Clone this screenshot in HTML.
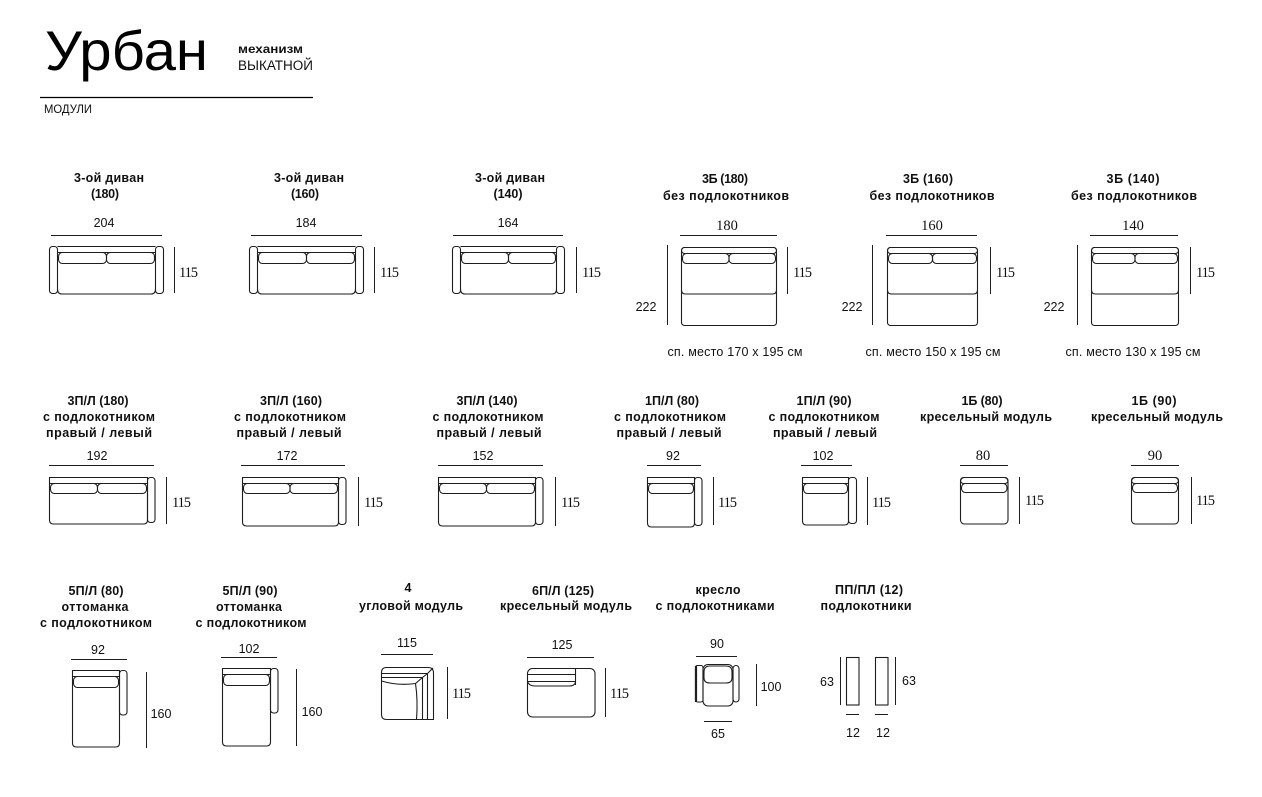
<!DOCTYPE html>
<html><head><meta charset="utf-8"><style>
html,body{margin:0;padding:0;background:#fff;}
svg{display:block;}
.o{fill:none;stroke:#1e1e1e;stroke-width:1.1;}
.d{fill:none;stroke:#1e1e1e;stroke-width:1;}
.t{font-family:"Liberation Sans","Noto Sans CJK SC",sans-serif;font-weight:bold;font-size:12.5px;fill:#111;text-anchor:middle;}
.n{font-family:"Liberation Sans","Noto Sans CJK SC",sans-serif;font-size:12.5px;fill:#111;text-anchor:middle;}
.s{font-family:"Liberation Serif","Noto Serif CJK SC",serif;font-size:14.5px;fill:#111;}
.c{font-family:"Liberation Sans","Noto Sans CJK SC",sans-serif;font-size:12.5px;fill:#111;text-anchor:middle;}
</style></head><body>
<svg width="1262" height="797" viewBox="0 0 1262 797" xmlns="http://www.w3.org/2000/svg">
<rect width="1262" height="797" fill="#fff"/>
<!-- Header -->
<text x="45" y="70" font-family="'Liberation Sans','Noto Sans CJK SC',sans-serif" font-size="56" fill="#000" textLength="163" lengthAdjust="spacingAndGlyphs">Урбан</text>
<text x="238" y="53" font-family="'Liberation Sans','Noto Sans CJK SC',sans-serif" font-size="12" font-weight="bold" fill="#111" textLength="65" lengthAdjust="spacingAndGlyphs">механизм</text>
<text x="238" y="70" font-family="'Liberation Sans','Noto Sans CJK SC',sans-serif" font-size="13.5" fill="#111" textLength="75" lengthAdjust="spacingAndGlyphs">ВЫКАТНОЙ</text>
<line x1="40" y1="97.5" x2="313" y2="97.5" stroke="#000" stroke-width="1.2"/>
<text x="44" y="113" font-family="'Liberation Sans','Noto Sans CJK SC',sans-serif" font-size="11.5" fill="#111" textLength="48" lengthAdjust="spacingAndGlyphs">МОДУЛИ</text>

<!-- ROW 1 titles -->
<text class="t" x="109" y="182" textLength="70">3-ой диван</text>
<text class="t" x="105" y="198" textLength="28">(180)</text>
<text class="t" x="309" y="182" textLength="70">3-ой диван</text>
<text class="t" x="305" y="198" textLength="28">(160)</text>
<text class="t" x="510" y="182" textLength="70">3-ой диван</text>
<text class="t" x="508" y="198" textLength="29">(140)</text>
<text class="t" x="725" y="183" textLength="46">3Б (180)</text>
<text class="t" x="726" y="200" textLength="126">без подлокотников</text>
<text class="t" x="928" y="183" textLength="50">3Б (160)</text>
<text class="t" x="932" y="200" textLength="125">без подлокотников</text>
<text class="t" x="1133" y="183" textLength="53">3Б (140)</text>
<text class="t" x="1134" y="200" textLength="126">без подлокотников</text>

<!-- ROW 1 dims -->
<text class="n" x="104" y="227">204</text>
<text class="n" x="306" y="227">184</text>
<text class="n" x="508" y="227">164</text>
<text class="s" x="727" y="230" text-anchor="middle">180</text>
<text class="s" x="932" y="230" text-anchor="middle">160</text>
<text class="s" x="1133" y="230" text-anchor="middle">140</text>
<path class="d" d="M51,235.5H162 M251,235.5H362 M453,235.5H563 M680,235.5H777 M886,235.5H977 M1090,235.5H1178"/>
<path class="d" d="M174.5,247V293 M374.5,247V293 M576.5,247V293 M667.5,245V325 M872.5,245V325 M1077.5,245V325 M787.5,247V294 M990.5,247V294 M1190.5,247V294"/>
<text class="s" x="179" y="277" textLength="19">115</text>
<text class="s" x="380" y="277" textLength="19">115</text>
<text class="s" x="582" y="277" textLength="19">115</text>
<text class="s" x="793" y="277" textLength="19">115</text>
<text class="s" x="996" y="277" textLength="19">115</text>
<text class="s" x="1196" y="277" textLength="19">115</text>
<text class="n" x="646" y="311">222</text>
<text class="n" x="852" y="311">222</text>
<text class="n" x="1054" y="311">222</text>
<text class="c" x="735" y="356" textLength="135">сп. место 170 х 195 см</text>
<text class="c" x="933" y="356" textLength="135">сп. место 150 х 195 см</text>
<text class="c" x="1133" y="356" textLength="135">сп. место 130 х 195 см</text>

<!-- ROW 1 sofas type A -->
<g class="o">
 <rect x="49.5" y="246.5" width="8" height="47" rx="3"/>
 <rect x="155.5" y="246.5" width="8" height="47" rx="3"/>
 <path d="M57.5,246.5H155.5 M57.5,252.5H155.5 M57.5,289Q57.5,294 62,294H151Q155.5,294 155.5,289"/>
 <rect x="58.5" y="252.5" width="48" height="11" rx="4"/>
 <rect x="106.5" y="252.5" width="48" height="11" rx="4"/>

 <rect x="249.5" y="246.5" width="8" height="47" rx="3"/>
 <rect x="355.5" y="246.5" width="8" height="47" rx="3"/>
 <path d="M257.5,246.5H355.5 M257.5,252.5H355.5 M257.5,289Q257.5,294 262,294H351Q355.5,294 355.5,289"/>
 <rect x="258.5" y="252.5" width="48" height="11" rx="4"/>
 <rect x="306.5" y="252.5" width="48" height="11" rx="4"/>

 <rect x="452.5" y="246.5" width="8" height="47" rx="3"/>
 <rect x="556.5" y="246.5" width="8" height="47" rx="3"/>
 <path d="M460.5,246.5H556.5 M460.5,252.5H556.5 M460.5,289Q460.5,294 465,294H552Q556.5,294 556.5,289"/>
 <rect x="461.5" y="252.5" width="47" height="11" rx="4"/>
 <rect x="508.5" y="252.5" width="47" height="11" rx="4"/>
</g>

<!-- ROW 1 3Б -->
<g class="o">
 <rect x="681.5" y="247.5" width="95" height="78" rx="3"/>
 <rect x="681.5" y="247.5" width="95" height="6" rx="3"/>
 <rect x="682.5" y="253.5" width="46.5" height="10" rx="4"/>
 <rect x="729" y="253.5" width="46.5" height="10" rx="4"/>
 <path d="M681.5,290Q681.5,294 685.5,294H772.5Q776.5,294 776.5,290"/>

 <rect x="887.5" y="247.5" width="90" height="78" rx="3"/>
 <rect x="887.5" y="247.5" width="90" height="6" rx="3"/>
 <rect x="888.5" y="253.5" width="44" height="10" rx="4"/>
 <rect x="932.5" y="253.5" width="44" height="10" rx="4"/>
 <path d="M887.5,290Q887.5,294 891.5,294H973.5Q977.5,294 977.5,290"/>

 <rect x="1091.5" y="247.5" width="87" height="78" rx="3"/>
 <rect x="1091.5" y="247.5" width="87" height="6" rx="3"/>
 <rect x="1092.5" y="253.5" width="42.5" height="10" rx="4"/>
 <rect x="1135" y="253.5" width="42.5" height="10" rx="4"/>
 <path d="M1091.5,290Q1091.5,294 1095.5,294H1174.5Q1178.5,294 1178.5,290"/>
</g>

<!-- ROW 2 titles -->
<text class="t" x="98" y="405" textLength="61">3П/Л (180)</text>
<text class="t" x="99" y="421" textLength="112">с подлокотником</text>
<text class="t" x="99" y="437" textLength="106">правый / левый</text>
<text class="t" x="291" y="405" textLength="62">3П/Л (160)</text>
<text class="t" x="290" y="421" textLength="112">с подлокотником</text>
<text class="t" x="289" y="437" textLength="105">правый / левый</text>
<text class="t" x="487" y="405" textLength="61">3П/Л (140)</text>
<text class="t" x="488" y="421" textLength="111">с подлокотником</text>
<text class="t" x="489" y="437" textLength="105">правый / левый</text>
<text class="t" x="672" y="405" textLength="54">1П/Л (80)</text>
<text class="t" x="670" y="421" textLength="112">с подлокотником</text>
<text class="t" x="669" y="437" textLength="105">правый / левый</text>
<text class="t" x="824" y="405" textLength="55">1П/Л (90)</text>
<text class="t" x="824" y="421" textLength="111">с подлокотником</text>
<text class="t" x="825" y="437" textLength="104">правый / левый</text>
<text class="t" x="982" y="405" textLength="41">1Б (80)</text>
<text class="t" x="986" y="421" textLength="132">кресельный модуль</text>
<text class="t" x="1154" y="405" textLength="45">1Б (90)</text>
<text class="t" x="1157" y="421" textLength="132">кресельный модуль</text>

<!-- ROW 2 dims -->
<text class="n" x="97" y="460">192</text>
<text class="n" x="287" y="460">172</text>
<text class="n" x="483" y="460">152</text>
<text class="n" x="673" y="460">92</text>
<text class="n" x="823" y="460">102</text>
<text class="s" x="983" y="460" text-anchor="middle">80</text>
<text class="s" x="1155" y="460" text-anchor="middle">90</text>
<path class="d" d="M49,465.5H154 M241,465.5H345 M438,465.5H543 M647,465.5H701 M801,465.5H852 M960,465.5H1008 M1131,465.5H1179"/>
<path class="d" d="M166.5,477V524 M358.5,477V526 M555.5,477V526 M713.5,477V525 M867.5,477V525 M1019.5,477V524 M1191.5,477V524"/>
<text class="s" x="172" y="507" textLength="19">115</text>
<text class="s" x="364" y="507" textLength="19">115</text>
<text class="s" x="561" y="507" textLength="19">115</text>
<text class="s" x="718" y="507" textLength="19">115</text>
<text class="s" x="872" y="507" textLength="19">115</text>
<text class="s" x="1025" y="505" textLength="19">115</text>
<text class="s" x="1196" y="505" textLength="19">115</text>

<!-- ROW 2 shapes -->
<g class="o">
 <path d="M49.5,477.5H147.5V520Q147.5,524 143.5,524H53.5Q49.5,524 49.5,520Z"/>
 <path d="M49.5,483.5H147.5"/>
 <rect x="50.5" y="483.5" width="47" height="10" rx="4"/>
 <rect x="97.5" y="483.5" width="49" height="10" rx="4"/>
 <rect x="147.5" y="477.5" width="7.5" height="45" rx="3"/>

 <path d="M242.5,477.5H338.5V522Q338.5,526 334.5,526H246.5Q242.5,526 242.5,522Z"/>
 <path d="M242.5,483.5H338.5"/>
 <rect x="243.5" y="483.5" width="46.5" height="10" rx="4"/>
 <rect x="290" y="483.5" width="47.5" height="10" rx="4"/>
 <rect x="338.5" y="477.5" width="7.5" height="47" rx="3"/>

 <path d="M438.5,477.5H535.5V522Q535.5,526 531.5,526H442.5Q438.5,526 438.5,522Z"/>
 <path d="M438.5,483.5H535.5"/>
 <rect x="439.5" y="483.5" width="47" height="10" rx="4"/>
 <rect x="486.5" y="483.5" width="48" height="10" rx="4"/>
 <rect x="535.5" y="477.5" width="7.5" height="47" rx="3"/>

 <path d="M647.5,477.5H694.5V523Q694.5,527 690.5,527H651.5Q647.5,527 647.5,523Z"/>
 <path d="M647.5,483.5H694.5"/>
 <rect x="648.5" y="483.5" width="45" height="10" rx="4"/>
 <rect x="694.5" y="477.5" width="7.5" height="48" rx="3"/>

 <path d="M802.5,477.5H848.5V521Q848.5,525 844.5,525H806.5Q802.5,525 802.5,521Z"/>
 <path d="M802.5,483.5H848.5"/>
 <rect x="803.5" y="483.5" width="44" height="10" rx="4"/>
 <rect x="848.5" y="477.5" width="8" height="46" rx="3"/>

 <rect x="960.5" y="477.5" width="47.5" height="46.5" rx="4"/>
 <rect x="960.5" y="477.5" width="47.5" height="6" rx="3"/>
 <rect x="961.5" y="483.5" width="45.5" height="9" rx="4"/>

 <rect x="1131.5" y="477.5" width="47" height="46.5" rx="4"/>
 <rect x="1131.5" y="477.5" width="47" height="6" rx="3"/>
 <rect x="1132.5" y="483.5" width="45" height="9" rx="4"/>
</g>

<!-- ROW 3 titles -->
<text class="t" x="96" y="595" textLength="55">5П/Л (80)</text>
<text class="t" x="95" y="611" textLength="67">оттоманка</text>
<text class="t" x="96" y="627" textLength="112">с подлокотником</text>
<text class="t" x="250" y="595" textLength="55">5П/Л (90)</text>
<text class="t" x="249" y="611" textLength="66">оттоманка</text>
<text class="t" x="251" y="627" textLength="111">с подлокотником</text>
<text class="t" x="408" y="592">4</text>
<text class="t" x="411" y="610" textLength="104">угловой модуль</text>
<text class="t" x="563" y="595" textLength="62">6П/Л (125)</text>
<text class="t" x="566" y="610" textLength="132">кресельный модуль</text>
<text class="t" x="718" y="594" textLength="45">кресло</text>
<text class="t" x="715" y="610" textLength="119">с подлокотниками</text>
<text class="t" x="869" y="594" textLength="68">ПП/ПЛ (12)</text>
<text class="t" x="866" y="610" textLength="91">подлокотники</text>

<!-- ROW 3 dims -->
<text class="n" x="98" y="654">92</text>
<text class="n" x="249" y="653">102</text>
<text class="n" x="407" y="647">115</text>
<text class="n" x="562" y="649">125</text>
<text class="n" x="717" y="648">90</text>
<text class="n" x="718" y="738">65</text>
<text class="n" x="853" y="737">12</text>
<text class="n" x="883" y="737">12</text>
<path class="d" d="M71,659.5H127 M221,657.5H277 M381,654.5H433 M527,657.5H594 M696,656.5H737 M704,721.5H732 M846,714.5H859 M875,714.5H888"/>
<path class="d" d="M146.5,672V748 M296.5,669V746 M447.5,667V719 M605.5,668V717 M756.5,664V706 M840.5,657V705 M895.5,657V705"/>
<text class="n" x="161" y="718">160</text>
<text class="n" x="312" y="716">160</text>
<text class="s" x="452" y="698" textLength="19">115</text>
<text class="s" x="610" y="698" textLength="19">115</text>
<text class="n" x="771" y="691">100</text>
<text class="n" x="827" y="686">63</text>
<text class="n" x="909" y="685">63</text>

<!-- ROW 3 shapes -->
<g class="o">
 <path d="M72.5,670.5H119.5V743Q119.5,747 115.5,747H76.5Q72.5,747 72.5,743Z"/>
 <path d="M72.5,676.5H119.5"/>
 <rect x="73.5" y="676.5" width="45" height="11" rx="4"/>
 <rect x="119.5" y="670.5" width="7.5" height="44.5" rx="3"/>

 <path d="M222.5,668.5H270.5V742Q270.5,746 266.5,746H226.5Q222.5,746 222.5,742Z"/>
 <path d="M222.5,674.5H270.5"/>
 <rect x="223.5" y="674.5" width="46" height="11" rx="4"/>
 <rect x="270.5" y="668.5" width="7.5" height="44.5" rx="3"/>

 <!-- corner module -->
 <path d="M381.5,672.5Q381.5,667.5 386.5,667.5H428Q433.5,667.5 433.5,673V719.5H386.5Q381.5,719.5 381.5,714.5Z"/>
 <path d="M381.5,673.5H427.5V719.5 M427.5,673.5L433,668"/>
 <path d="M381.5,677.5H422.5V719.5 M422.5,677.5L427.5,673.5"/>
 <path d="M381.5,681Q398,686 415.5,683.5Q418,700 416.5,719.5 M415.5,683.5L422.5,677.5"/>

 <!-- 6П/Л -->
 <rect x="527.5" y="668.5" width="67.5" height="48.5" rx="5"/>
 <path d="M575.5,668.5V685 M527.5,674.5H575.5 M527.5,681.5H575.5 M527.5,681.5Q529,686 535,686H569Q575.5,686 575.5,681"/>

 <!-- armchair -->
 <rect x="695.5" y="665.5" width="7.5" height="36.5" rx="2"/>
 <path d="M696,666V702" stroke-width="2.2"/>
 <rect x="703" y="664.5" width="30" height="41.5" rx="5"/>
 <rect x="733" y="665.5" width="6" height="36.5" rx="3"/>
 <path d="M704,672Q704,666 710,666H726Q732,666 732,672V678Q732,683 726,683H710Q704,683 704,678Z"/>

 <!-- armrests -->
 <rect x="846.5" y="657.5" width="12.5" height="47.5"/>
 <rect x="875.5" y="657.5" width="12.5" height="47.5"/>
</g>
</svg>
</body></html>
